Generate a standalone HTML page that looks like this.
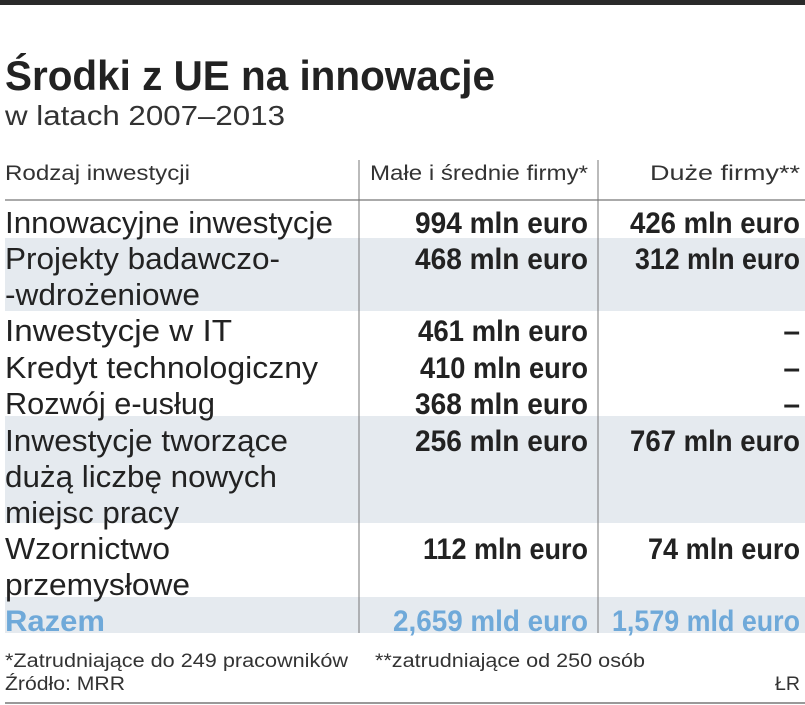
<!DOCTYPE html>
<html><head><meta charset="utf-8"><style>
html,body{margin:0;padding:0;background:#fff;}
svg{display:block;font-family:"Liberation Sans","DejaVu Sans",sans-serif;}
</style></head><body>
<svg width="805" height="705" viewBox="0 0 805 705">
<rect x="0" y="0" width="805" height="5" fill="#2a2a2a"/>
<text x="5" y="90" font-size="42" font-weight="bold" fill="#222" textLength="490" lengthAdjust="spacingAndGlyphs">Środki z UE na innowacje</text>
<text x="5" y="125" font-size="28" fill="#333" textLength="280" lengthAdjust="spacingAndGlyphs">w latach 2007–2013</text>

<g>
<rect x="5" y="238" width="800" height="73" fill="#e5eaef"/>
<rect x="5" y="416" width="800" height="107" fill="#e5eaef"/>
<rect x="5" y="597" width="800" height="36" fill="#e5eaef"/>
</g>

<g font-size="21" fill="#333">
<text x="5" y="180" textLength="185" lengthAdjust="spacingAndGlyphs">Rodzaj inwestycji</text>
<text x="588" y="180" text-anchor="end" textLength="218" lengthAdjust="spacingAndGlyphs">Małe i średnie firmy*</text>
<text x="800" y="180" text-anchor="end" textLength="150" lengthAdjust="spacingAndGlyphs">Duże firmy**</text>
</g>
<line x1="5" y1="200" x2="805" y2="200" stroke="#777" stroke-width="1.2"/>
<line x1="359" y1="160" x2="359" y2="633" stroke="#777" stroke-width="1"/>
<line x1="598" y1="160" x2="598" y2="633" stroke="#777" stroke-width="1"/>

<g font-size="31" fill="#222">
<text x="5" y="233" textLength="328" lengthAdjust="spacingAndGlyphs">Innowacyjne inwestycje</text>
<text x="5" y="269" textLength="275" lengthAdjust="spacingAndGlyphs">Projekty badawczo-</text>
<text x="5" y="305" textLength="195" lengthAdjust="spacingAndGlyphs">-wdrożeniowe</text>
<text x="5" y="341" textLength="227" lengthAdjust="spacingAndGlyphs">Inwestycje w IT</text>
<text x="5" y="378" textLength="313" lengthAdjust="spacingAndGlyphs">Kredyt technologiczny</text>
<text x="5" y="414" textLength="210" lengthAdjust="spacingAndGlyphs">Rozwój e-usług</text>
<text x="5" y="451" textLength="283" lengthAdjust="spacingAndGlyphs">Inwestycje tworzące</text>
<text x="5" y="487" textLength="272" lengthAdjust="spacingAndGlyphs">dużą liczbę nowych</text>
<text x="5" y="523" textLength="174" lengthAdjust="spacingAndGlyphs">miejsc pracy</text>
<text x="5" y="559" textLength="165" lengthAdjust="spacingAndGlyphs">Wzornictwo</text>
<text x="5" y="595" textLength="185" lengthAdjust="spacingAndGlyphs">przemysłowe</text>
</g>

<g font-size="30" font-weight="bold" fill="#222" text-anchor="end">
<text x="588" y="233" textLength="173" lengthAdjust="spacingAndGlyphs">994 mln euro</text>
<text x="800" y="233" textLength="170" lengthAdjust="spacingAndGlyphs">426 mln euro</text>
<text x="588" y="269" textLength="173" lengthAdjust="spacingAndGlyphs">468 mln euro</text>
<text x="800" y="269" textLength="165" lengthAdjust="spacingAndGlyphs">312 mln euro</text>
<text x="588" y="341" textLength="170" lengthAdjust="spacingAndGlyphs">461 mln euro</text>
<text x="800" y="341">–</text>
<text x="588" y="378" textLength="168" lengthAdjust="spacingAndGlyphs">410 mln euro</text>
<text x="800" y="378">–</text>
<text x="588" y="414" textLength="173" lengthAdjust="spacingAndGlyphs">368 mln euro</text>
<text x="800" y="414">–</text>
<text x="588" y="451" textLength="173" lengthAdjust="spacingAndGlyphs">256 mln euro</text>
<text x="800" y="451" textLength="170" lengthAdjust="spacingAndGlyphs">767 mln euro</text>
<text x="588" y="559" textLength="165" lengthAdjust="spacingAndGlyphs">112 mln euro</text>
<text x="800" y="559" textLength="152" lengthAdjust="spacingAndGlyphs">74 mln euro</text>
</g>

<g font-size="30" font-weight="bold" fill="#6fa9d9">
<text x="5" y="631" textLength="100" lengthAdjust="spacingAndGlyphs">Razem</text>
<text x="588" y="631" text-anchor="end" textLength="195" lengthAdjust="spacingAndGlyphs">2,659 mld euro</text>
<text x="800" y="631" text-anchor="end" textLength="188" lengthAdjust="spacingAndGlyphs">1,579 mld euro</text>
</g>

<g font-size="19" fill="#333">
<text x="5" y="667" textLength="343" lengthAdjust="spacingAndGlyphs">*Zatrudniające do 249 pracowników</text>
<text x="375" y="667" textLength="270" lengthAdjust="spacingAndGlyphs">**zatrudniające od 250 osób</text>
<text x="5" y="690" textLength="120" lengthAdjust="spacingAndGlyphs">Źródło: MRR</text>
<text x="800" y="690" text-anchor="end" textLength="25" lengthAdjust="spacingAndGlyphs">ŁR</text>
</g>
<line x1="5" y1="703" x2="805" y2="703" stroke="#999" stroke-width="2"/>
</svg>
</body></html>
